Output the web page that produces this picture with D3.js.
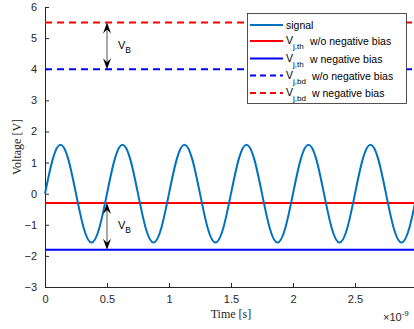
<!DOCTYPE html>
<html>
<head>
<meta charset="utf-8">
<script src="https://cdn.jsdelivr.net/npm/d3@7"></script>
<style>
  body { margin: 0; background: #fff; }
  svg { display: block; }
</style>
</head>
<body>
<div id="chart"></div>
<script>
const timeNs = d3.range(0, 49).map(i => i * 0.0625)
const signal = [
  0, 1.11, 1.57, 1.11, 0, -1.11, -1.57, -1.11,
  0, 1.11, 1.57, 1.11, 0, -1.11, -1.57, -1.11,
  0, 1.11, 1.57, 1.11, 0, -1.11, -1.57, -1.11,
  0, 1.11, 1.57, 1.11, 0, -1.11, -1.57, -1.11,
  0, 1.11, 1.57, 1.11, 0, -1.11, -1.57, -1.11,
  0, 1.11, 1.57, 1.11, 0, -1.11, -1.57, -1.11,
  0
]
const levelNames = ['Vj,th w/o negative bias', 'Vj,th w negative bias', 'Vj,bd w/o negative bias', 'Vj,bd w negative bias']
const levelValues = [-0.3, -1.8, 4, 5.5]
const levelColors = ['#ff0000', '#0000ff', '#0000ff', '#ff0000']
const levelDash = [false, false, true, true]
const xTicks = [0, 0.5, 1, 1.5, 2, 2.5, 3]
const yTicks = [-3, -2, -1, 0, 1, 2, 3, 4, 5, 6]
const arrowPairs = [[5.5, 4], [-0.3, -1.8]]

const W = 414, H = 329
const margin = {top: 7, left: 45, bottom: 42}
const plotW = 372, plotH = H - margin.top - margin.bottom

const svg = d3.select('#chart').append('svg')
  .attr('width', W).attr('height', H)
const g = svg.append('g').attr('transform', `translate(${margin.left},${margin.top})`)

const x = d3.scaleLinear().domain([0, 3]).range([0, plotW])
const y = d3.scaleLinear().domain([-3, 6]).range([plotH, 0])

const axisColor = '#262626'
const sans = 'Liberation Sans, Arial, sans-serif'
const serif = 'Liberation Serif, Times New Roman, serif'

// x axis
const xAxis = g.append('g').attr('transform', `translate(0,${plotH})`)
  .call(d3.axisBottom(x).tickValues(xTicks).tickSize(-4).tickPadding(8).tickFormat(d3.format('')))
xAxis.select('.domain').attr('stroke', axisColor)
xAxis.selectAll('.tick line').attr('stroke', axisColor)
xAxis.selectAll('text').attr('fill', axisColor).attr('font-family', sans).attr('font-size', 11)

// y axis
const yAxis = g.append('g')
  .call(d3.axisLeft(y).tickValues(yTicks).tickSize(-4).tickPadding(8).tickFormat(d3.format('')))
yAxis.select('.domain').attr('stroke', axisColor)
yAxis.selectAll('.tick line').attr('stroke', axisColor)
yAxis.selectAll('text').attr('fill', axisColor).attr('font-family', sans).attr('font-size', 11)

// levels
levelValues.forEach((v, i) => {
  g.append('line')
    .attr('x1', x(0)).attr('x2', x(3))
    .attr('y1', y(v)).attr('y2', y(v))
    .attr('stroke', levelColors[i])
    .attr('stroke-width', 2)
    .attr('stroke-dasharray', levelDash[i] ? '7,5' : null)
})

// signal
const line = d3.line().x((d, i) => x(timeNs[i])).y(d => y(d)).curve(d3.curveNatural)
g.append('path')
  .datum(signal)
  .attr('d', line)
  .attr('fill', 'none')
  .attr('stroke', '#0072bd')
  .attr('stroke-width', 2)

// double arrows + V_B
arrowPairs.forEach(([a, b]) => {
  let ax = x(0.5), y1 = y(a), y2 = y(b)
  g.append('line')
    .attr('x1', ax).attr('x2', ax)
    .attr('y1', y1 + 6).attr('y2', y2 - 6)
    .attr('stroke', '#555').attr('stroke-width', 1)
  let head = (tip, dir) => `M${ax},${tip} L${ax - 4},${tip + dir * 11} L${ax},${tip + dir * 7} L${ax + 4},${tip + dir * 11} Z`
  g.append('path').attr('d', head(y1, 1)).attr('fill', '#000')
  g.append('path').attr('d', head(y2, -1)).attr('fill', '#000')
  let t = g.append('text')
    .attr('x', ax + 11).attr('y', (y1 + y2) / 2 + 3)
    .attr('font-family', sans).attr('font-size', 11).attr('fill', '#000')
  t.append('tspan').text('V')
  t.append('tspan').attr('dy', 4).attr('font-size', 8.5).text('B')
})

// axis labels
svg.append('text')
  .attr('x', margin.left + x(1.5)).attr('y', 318)
  .attr('text-anchor', 'middle')
  .attr('font-family', serif).attr('font-size', 12).attr('fill', axisColor)
  .text('Time [s]')
svg.append('text')
  .attr('transform', `translate(21,${margin.top + y(1.5)}) rotate(-90)`)
  .attr('text-anchor', 'middle')
  .attr('font-family', serif).attr('font-size', 12).attr('fill', axisColor)
  .text('Voltage [V]')
let ex = svg.append('text')
  .attr('x', 383).attr('y', 321)
  .attr('font-family', sans).attr('font-size', 11).attr('fill', axisColor)
ex.append('tspan').text('×10')
ex.append('tspan').attr('dy', -5).attr('font-size', 8).text('-9')

// legend
const lg = svg.append('g')
lg.append('rect')
  .attr('x', 247.5).attr('y', 13.5).attr('width', 159).attr('height', 90)
  .attr('fill', '#fff').attr('stroke', axisColor).attr('stroke-width', 0.8)
const rowsY = [25, 41, 58.5, 75.5, 93]
const entries = [{color: '#0072bd', dash: false, label: 'signal'}]
levelNames.forEach((n, i) => entries.push({color: levelColors[i], dash: levelDash[i], label: n}))
entries.forEach((e, i) => {
  let ry = rowsY[i]
  lg.append('line')
    .attr('x1', 250).attr('x2', 283).attr('y1', ry).attr('y2', ry)
    .attr('stroke', e.color).attr('stroke-width', 2)
    .attr('stroke-dasharray', e.dash ? '6,4' : null)
  if (i === 0) {
    lg.append('text').attr('x', 286).attr('y', ry + 4)
      .attr('font-family', sans).attr('font-size', 10.5).attr('fill', '#000')
      .text(e.label)
    return
  }
  let sub = e.label.slice(1, 5), rest = e.label.slice(6)
  let t = lg.append('text').attr('x', 286).attr('y', ry + 3)
    .attr('font-family', sans).attr('font-size', 10.5).attr('fill', '#000')
  t.append('tspan').text('V')
  t.append('tspan').attr('dy', 5).attr('font-size', 8).text(sub)
  lg.append('text').attr('x', i > 2 ? 312 : 310).attr('y', ry + 4)
    .attr('font-family', sans).attr('font-size', 10.5).attr('fill', '#000')
    .text(rest)
})
</script>
</body>
</html>
